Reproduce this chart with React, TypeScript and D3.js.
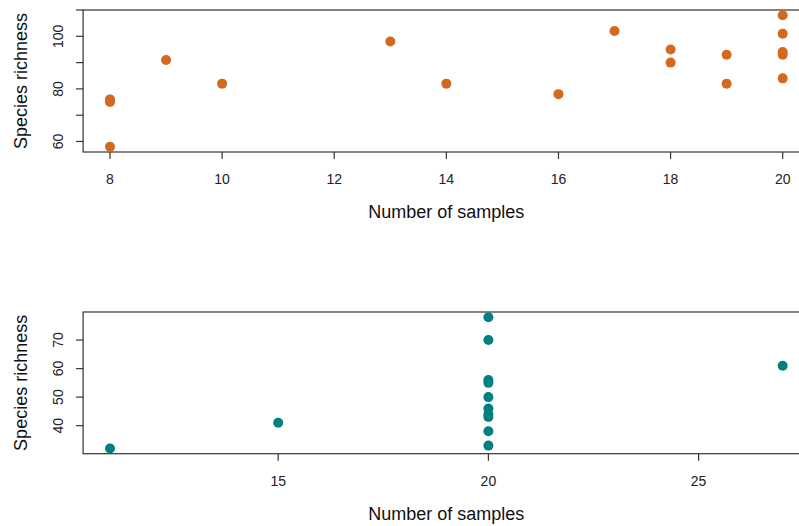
import React from "react";
import * as d3 from "d3";

// Top panel data (orange)
const topSamples = [8, 8, 8, 9, 10, 13, 14, 16, 17, 18, 18, 19, 19, 20, 20, 20, 20, 20];
const topRichness = [76, 75, 58, 91, 82, 98, 82, 78, 102, 95, 90, 93, 82, 108, 101, 94, 93, 84];
const topXTicks = [8, 10, 12, 14, 16, 18, 20];
const topYTicks = [60, 70, 80, 90, 100, 110];
const topYLabels = [60, 80, 100];

// Bottom panel data (teal)
const botSamples = [11, 15, 20, 20, 20, 20, 20, 20, 20, 20, 20, 20, 27];
const botRichness = [32, 41, 78, 70, 56, 55, 50, 46, 44, 43, 38, 33, 61];
const botXTicks = [15, 20, 25];
const botYTicks = [40, 50, 60, 70];
const botYLabels = [40, 50, 60, 70];

const xTitle = "Number of samples";
const yTitle = "Species richness";

const W = 799;
const H = 526;
const FONT = "'Liberation Sans', Arial, Helvetica, sans-serif";

function rExtent(vals: number[]): [number, number] {
  const [a, b] = d3.extent(vals) as [number, number];
  const r = b - a;
  return [a - 0.04 * r, b + 0.04 * r];
}

type PanelProps = {
  xs: number[];
  ys: number[];
  xTicks: number[];
  yTicks: number[];
  yLabels: number[];
  color: string;
  top: number;
  bottom: number;
};

function Panel({ xs, ys, xTicks, yTicks, yLabels, color, top, bottom }: PanelProps) {
  const left = 83.1;
  const right = 809.6;
  const x = d3.scaleLinear().domain(rExtent(xs)).range([left, right]);
  const y = d3.scaleLinear().domain(rExtent(ys)).range([bottom, top]);
  const tickLen = 7;
  const axisColor = "#333";
  const midY = (top + bottom) / 2;
  const midX = (left + right) / 2;
  return (
    <g>
      <rect x={left} y={top} width={right - left} height={bottom - top} fill="none" stroke={axisColor} strokeWidth={1.2} />
      {xTicks.map((t) => (
        <g key={"x" + t}>
          <line x1={x(t)} x2={x(t)} y1={bottom} y2={bottom + tickLen} stroke={axisColor} strokeWidth={1.2} />
          <text x={x(t)} y={bottom + 32} textAnchor="middle" fontSize={14} fill="#222" fontFamily={FONT}>
            {t}
          </text>
        </g>
      ))}
      {yTicks.map((t) => (
        <line key={"y" + t} x1={left - tickLen} x2={left} y1={y(t)} y2={y(t)} stroke={axisColor} strokeWidth={1.2} />
      ))}
      {yLabels.map((t) => (
        <text
          key={"yl" + t}
          transform={`translate(${63},${y(t)}) rotate(-90)`}
          textAnchor="middle"
          fontSize={14}
          fill="#222"
          fontFamily={FONT}
        >
          {t}
        </text>
      ))}
      <text x={midX} y={bottom + 66} textAnchor="middle" fontSize={18} fill="#111" fontFamily={FONT}>
        {xTitle}
      </text>
      <text
        transform={`translate(${27},${midY}) rotate(-90)`}
        textAnchor="middle"
        fontSize={18}
        fill="#111"
        fontFamily={FONT}
      >
        {yTitle}
      </text>
      {xs.map((v, i) => (
        <circle key={"p" + i} cx={x(v)} cy={y(ys[i])} r={5} fill={color} />
      ))}
    </g>
  );
}

export default function App() {
  return (
    <svg
      width={W}
      height={H}
      style={{ position: "absolute", left: 0, top: 0, display: "block", background: "#fff" }}
    >
      <rect width={W} height={H} fill="#fff" />
      <Panel
        xs={topSamples}
        ys={topRichness}
        xTicks={topXTicks}
        yTicks={topYTicks}
        yLabels={topYLabels}
        color="#D2691E"
        top={10}
        bottom={152}
      />
      <Panel
        xs={botSamples}
        ys={botRichness}
        xTicks={botXTicks}
        yTicks={botYTicks}
        yLabels={botYLabels}
        color="#008080"
        top={312}
        bottom={453.7}
      />
    </svg>
  );
}
